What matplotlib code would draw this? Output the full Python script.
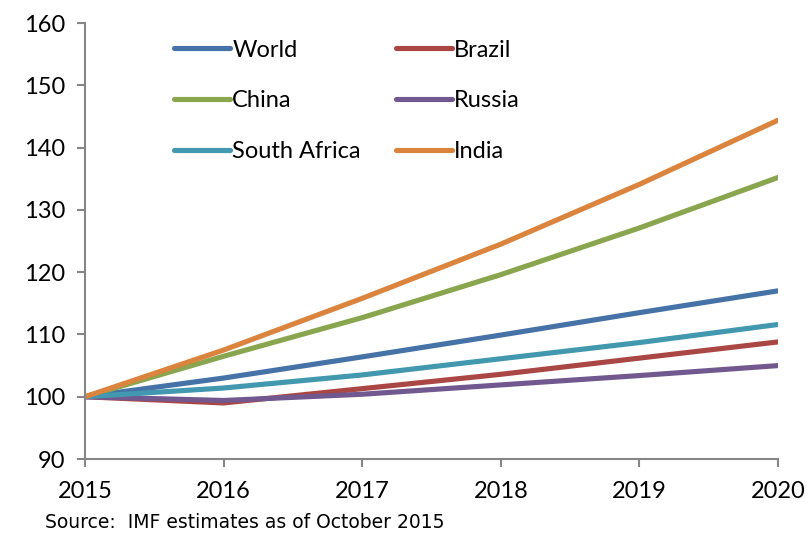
import matplotlib
matplotlib.use("Agg")
import matplotlib.pyplot as plt

years = [2015, 2016, 2017, 2018, 2019, 2020]
world = [100, 103.0, 106.4, 109.9, 113.5, 117.0]
brazil = [100, 99.0, 101.3, 103.6, 106.2, 108.8]
china = [100, 106.5, 112.7, 119.6, 127.1, 135.2]
russia = [100, 99.4, 100.4, 101.9, 103.4, 105.0]
south_africa = [100, 101.4, 103.5, 106.1, 108.7, 111.6]
india = [100, 107.5, 115.8, 124.5, 134.1, 144.4]

series = [
    ("World", world, "#4572A7"),
    ("China", china, "#89A54E"),
    ("South Africa", south_africa, "#4198AF"),
    ("Brazil", brazil, "#AA4643"),
    ("Russia", russia, "#71588F"),
    ("India", india, "#DB843D"),
]
draw_order = ["World", "Brazil", "China", "Russia", "South Africa", "India"]

plt.rcParams['font.family'] = ['Lato', 'DejaVu Sans']

fig = plt.figure(figsize=(8.1, 5.33), dpi=100)
ax = fig.add_axes([0.105, 0.1388, 0.8555, 0.818])

handles = {}
for name in draw_order:
    for n, vals, col in series:
        if n == name:
            h, = ax.plot(years, vals, color=col, lw=3.7, solid_capstyle='round',
                         solid_joinstyle='round', label=n)
            handles[n] = h

ax.set_xlim(2015, 2020)
ax.set_ylim(90, 160)
ax.set_xticks(years)
ax.set_yticks(range(90, 161, 10))
for s in ['top', 'right']:
    ax.spines[s].set_visible(False)
for s in ['left', 'bottom']:
    ax.spines[s].set_color('#868686')
    ax.spines[s].set_linewidth(1.5)
ax.tick_params(axis='both', colors='#868686', width=1.5, length=6, direction='out',
               labelsize=17, labelcolor='black')
ax.tick_params(axis='x', pad=10)
ax.tick_params(axis='y', pad=8)

leg = ax.legend([handles[n] for n, _, _ in series], [n for n, _, _ in series],
                ncol=2, frameon=False, fontsize=17, loc='upper left',
                bbox_to_anchor=(0.105, 1.0), handlelength=2.35, handletextpad=0.1,
                columnspacing=1.5, labelspacing=1.26, borderaxespad=0.3)
for line in leg.get_lines():
    line.set_linewidth(3.7)
    line.set_solid_capstyle('round')

fig.text(45/810, 1 - 522/533, "Source:  IMF estimates as of October 2015",
         fontsize=13.5, family='DejaVu Sans', va='center', ha='left', color='black')

fig.savefig("out.png", dpi=100)
